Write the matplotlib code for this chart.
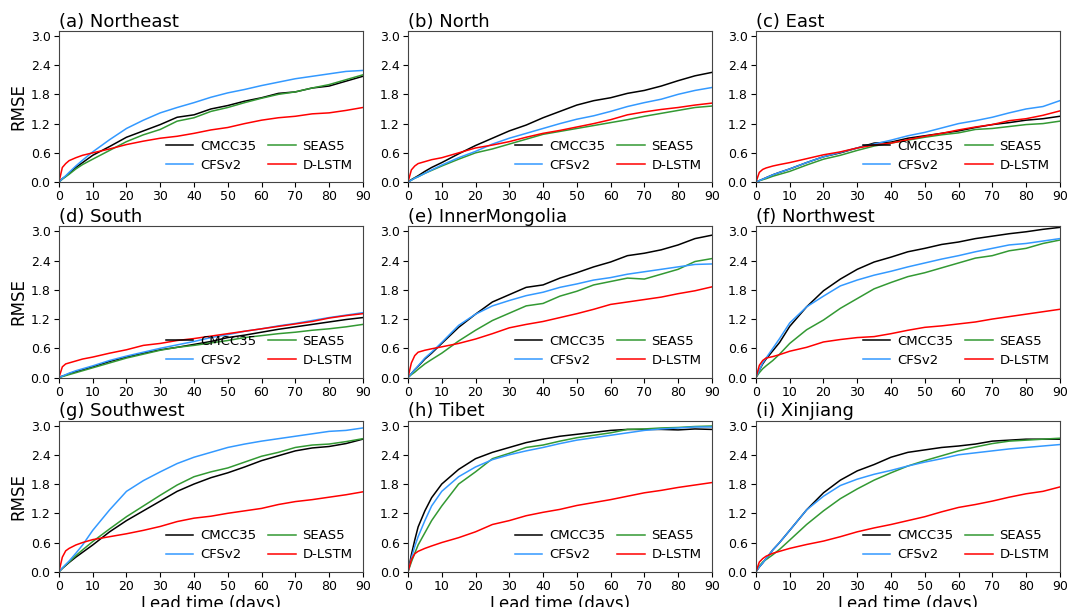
import matplotlib.pyplot as plt

# lead times (days) shared by every region
lead = [0, 1, 2, 3, 5, 7, 10, 15, 20, 25, 30, 35, 40, 45, 50, 55, 60, 65, 70, 75, 80, 85, 90]

# (a) Northeast
ne_cmcc = [0, .07, .12, .18, .3, .4, .55, .73, .92, 1.05, 1.18, 1.33, 1.38, 1.5, 1.57, 1.66, 1.73, 1.82, 1.85, 1.93, 1.97, 2.07, 2.17]
ne_seas = [0, .06, .11, .16, .27, .36, .47, .65, .83, .97, 1.08, 1.25, 1.32, 1.45, 1.53, 1.63, 1.72, 1.8, 1.85, 1.93, 2.0, 2.1, 2.2]
ne_cfsv = [0, .07, .13, .2, .33, .45, .62, .87, 1.1, 1.27, 1.42, 1.53, 1.63, 1.74, 1.83, 1.9, 1.98, 2.05, 2.12, 2.17, 2.22, 2.27, 2.29]
ne_lstm = [0, .3, .38, .44, .5, .55, .6, .68, .77, .84, .9, .94, 1.0, 1.07, 1.12, 1.2, 1.27, 1.32, 1.35, 1.4, 1.42, 1.47, 1.53]

# (b) North
n_cmcc = [0, .05, .09, .13, .22, .3, .4, .58, .75, .9, 1.05, 1.17, 1.32, 1.45, 1.58, 1.67, 1.73, 1.82, 1.88, 1.97, 2.08, 2.18, 2.25]
n_seas = [0, .04, .08, .11, .18, .24, .33, .47, .6, .68, .78, .88, .98, 1.04, 1.1, 1.16, 1.22, 1.28, 1.35, 1.41, 1.47, 1.53, 1.56]
n_cfsv = [0, .04, .08, .11, .18, .25, .35, .5, .63, .78, .9, 1.0, 1.1, 1.2, 1.29, 1.36, 1.45, 1.55, 1.63, 1.7, 1.8, 1.88, 1.94]
n_lstm = [0, .25, .33, .38, .42, .46, .5, .6, .7, .76, .83, .92, 1.0, 1.06, 1.13, 1.2, 1.28, 1.38, 1.44, 1.49, 1.53, 1.58, 1.62]

# (c) East
e_cmcc = [0, .03, .06, .09, .15, .2, .27, .4, .52, .6, .7, .8, .82, .9, .95, 1.0, 1.05, 1.12, 1.18, 1.22, 1.27, 1.3, 1.35]
e_seas = [0, .03, .05, .07, .12, .16, .22, .35, .47, .55, .65, .74, .8, .86, .92, .97, 1.01, 1.08, 1.1, 1.14, 1.18, 1.2, 1.25]
e_cfsv = [0, .03, .06, .09, .15, .2, .27, .4, .52, .61, .7, .78, .86, .95, 1.02, 1.11, 1.2, 1.26, 1.33, 1.42, 1.5, 1.55, 1.67]
e_lstm = [0, .2, .26, .29, .33, .36, .4, .48, .56, .62, .7, .76, .8, .87, .94, 1.0, 1.07, 1.13, 1.18, 1.26, 1.3, 1.37, 1.46]

# (d) South
s_cmcc = [0, .03, .05, .08, .12, .16, .22, .33, .42, .5, .57, .62, .68, .74, .82, .87, .93, .99, 1.04, 1.09, 1.14, 1.19, 1.23]
s_seas = [0, .02, .04, .06, .1, .14, .2, .3, .4, .48, .56, .62, .66, .71, .76, .82, .86, .9, .93, .97, 1.0, 1.04, 1.09]
s_cfsv = [0, .03, .06, .09, .14, .18, .24, .35, .44, .52, .6, .67, .74, .82, .88, .95, 1.0, 1.06, 1.11, 1.17, 1.23, 1.28, 1.33]
s_lstm = [0, .22, .28, .3, .34, .38, .42, .5, .57, .66, .7, .76, .8, .85, .9, .95, 1.0, 1.05, 1.1, 1.15, 1.22, 1.27, 1.31]

# (e) InnerMongolia
im_cmcc = [0, .08, .16, .23, .38, .5, .7, 1.03, 1.3, 1.55, 1.7, 1.85, 1.9, 2.04, 2.15, 2.27, 2.37, 2.5, 2.55, 2.62, 2.72, 2.85, 2.92]
im_seas = [0, .06, .11, .17, .28, .37, .5, .75, .97, 1.17, 1.32, 1.47, 1.52, 1.67, 1.77, 1.9, 1.97, 2.04, 2.02, 2.12, 2.22, 2.38, 2.44]
im_cfsv = [0, .08, .16, .24, .4, .52, .72, 1.07, 1.3, 1.47, 1.58, 1.68, 1.75, 1.85, 1.92, 2.0, 2.05, 2.12, 2.17, 2.22, 2.27, 2.32, 2.33]
im_lstm = [0, .3, .45, .52, .56, .59, .63, .7, .79, .9, 1.02, 1.09, 1.15, 1.23, 1.31, 1.4, 1.5, 1.55, 1.6, 1.65, 1.72, 1.78, 1.86]

# (f) Northwest
nw_cmcc = [0, .15, .28, .38, .55, .72, 1.05, 1.45, 1.78, 2.02, 2.22, 2.37, 2.47, 2.58, 2.65, 2.73, 2.78, 2.85, 2.9, 2.95, 2.99, 3.04, 3.08]
nw_seas = [0, .1, .18, .24, .35, .48, .7, .98, 1.18, 1.42, 1.62, 1.82, 1.95, 2.07, 2.15, 2.25, 2.35, 2.45, 2.5, 2.6, 2.65, 2.75, 2.82]
nw_cfsv = [0, .15, .3, .4, .6, .8, 1.12, 1.45, 1.67, 1.88, 2.0, 2.1, 2.18, 2.27, 2.35, 2.43, 2.5, 2.58, 2.65, 2.72, 2.75, 2.8, 2.85]
nw_lstm = [0, .25, .35, .4, .43, .47, .54, .62, .73, .78, .82, .84, .9, .97, 1.03, 1.06, 1.1, 1.14, 1.2, 1.25, 1.3, 1.35, 1.4]

# (g) Southwest
sw_cmcc = [0, .07, .13, .19, .3, .4, .55, .82, 1.05, 1.25, 1.45, 1.65, 1.8, 1.93, 2.03, 2.15, 2.28, 2.38, 2.48, 2.54, 2.57, 2.63, 2.72]
sw_seas = [0, .07, .14, .2, .33, .45, .62, .88, 1.13, 1.35, 1.57, 1.78, 1.95, 2.05, 2.13, 2.25, 2.37, 2.45, 2.55, 2.6, 2.62, 2.67, 2.73]
sw_cfsv = [0, .08, .15, .22, .38, .55, .85, 1.27, 1.65, 1.87, 2.05, 2.22, 2.35, 2.45, 2.55, 2.62, 2.68, 2.73, 2.78, 2.83, 2.88, 2.9, 2.95]
sw_lstm = [0, .3, .43, .48, .55, .6, .66, .72, .78, .85, .93, 1.03, 1.1, 1.14, 1.2, 1.25, 1.3, 1.38, 1.44, 1.48, 1.53, 1.58, 1.64]

# (h) Tibet
tb_cmcc = [0, .35, .65, .92, 1.25, 1.52, 1.8, 2.1, 2.32, 2.45, 2.55, 2.65, 2.72, 2.78, 2.82, 2.86, 2.9, 2.92, 2.92, 2.92, 2.91, 2.93, 2.92]
tb_seas = [0, .2, .38, .55, .8, 1.05, 1.35, 1.8, 2.05, 2.32, 2.43, 2.55, 2.6, 2.68, 2.75, 2.8, 2.85, 2.92, 2.93, 2.95, 2.96, 2.98, 2.99]
tb_cfsv = [0, .28, .52, .72, 1.05, 1.35, 1.65, 1.95, 2.15, 2.3, 2.4, 2.48, 2.55, 2.63, 2.7, 2.75, 2.8, 2.85, 2.9, 2.93, 2.95, 2.97, 2.97]
tb_lstm = [0, .25, .37, .42, .48, .53, .6, .7, .82, .97, 1.05, 1.15, 1.22, 1.28, 1.36, 1.42, 1.48, 1.55, 1.62, 1.67, 1.73, 1.78, 1.83]

# (i) Xinjiang
xj_cmcc = [0, .1, .18, .27, .45, .6, .85, 1.27, 1.62, 1.88, 2.07, 2.2, 2.35, 2.45, 2.5, 2.55, 2.58, 2.62, 2.68, 2.7, 2.72, 2.72, 2.72]
xj_seas = [0, .12, .2, .25, .35, .46, .65, .97, 1.25, 1.5, 1.7, 1.88, 2.03, 2.17, 2.28, 2.38, 2.48, 2.56, 2.63, 2.68, 2.7, 2.72, 2.74]
xj_cfsv = [0, .1, .18, .27, .45, .6, .85, 1.27, 1.55, 1.77, 1.9, 2.0, 2.08, 2.17, 2.25, 2.32, 2.4, 2.44, 2.48, 2.52, 2.55, 2.58, 2.61]
xj_lstm = [0, .2, .27, .32, .38, .42, .48, .56, .63, .72, .82, .9, .97, 1.05, 1.13, 1.23, 1.32, 1.38, 1.45, 1.53, 1.6, 1.65, 1.74]

titles = ['(a) Northeast', '(b) North', '(c) East', '(d) South', '(e) InnerMongolia',
          '(f) Northwest', '(g) Southwest', '(h) Tibet', '(i) Xinjiang']
regions = [
    (ne_cmcc, ne_seas, ne_cfsv, ne_lstm),
    (n_cmcc, n_seas, n_cfsv, n_lstm),
    (e_cmcc, e_seas, e_cfsv, e_lstm),
    (s_cmcc, s_seas, s_cfsv, s_lstm),
    (im_cmcc, im_seas, im_cfsv, im_lstm),
    (nw_cmcc, nw_seas, nw_cfsv, nw_lstm),
    (sw_cmcc, sw_seas, sw_cfsv, sw_lstm),
    (tb_cmcc, tb_seas, tb_cfsv, tb_lstm),
    (xj_cmcc, xj_seas, xj_cfsv, xj_lstm),
]
models = ['CMCC35', 'SEAS5', 'CFSv2', 'D-LSTM']
colors = ['black', '#339933', '#3399ff', 'red']

fig = plt.figure(figsize=(10.7, 6.07), dpi=100)

lefts = [0.0551, 0.3813, 0.7065]
bottoms = [0.700, 0.378, 0.058]
w, h = 0.284, 0.249

for k in range(9):
    row, col = k // 3, k % 3
    ax = fig.add_axes([lefts[col], bottoms[row], w, h])
    for vals, name, c in zip(regions[k], models, colors):
        ax.plot(lead, vals, color=c, linewidth=1.1, label=name)

    ax.set_xlim(0, 90)
    ax.set_ylim(0, 3.1)
    ax.set_xticks(range(0, 91, 10))
    ax.set_yticks([0, 0.6, 1.2, 1.8, 2.4, 3.0])
    ax.set_yticklabels(['0.0', '0.6', '1.2', '1.8', '2.4', '3.0'])
    ax.tick_params(labelsize=9, length=3.5, pad=2.5)
    for sp in ax.spines.values():
        sp.set_color('#444444')
    ax.set_title(titles[k], loc='left', fontsize=13, pad=3)
    if col == 0:
        ax.set_ylabel('RMSE', fontsize=12, labelpad=2)
    if row == 2:
        # bottom row label sits right at the figure edge
        ax.set_xlabel('Lead time (days)', fontsize=12, labelpad=1)
    # legend in two columns: CMCC35/CFSv2 on the left, SEAS5/D-LSTM on the right
    hs, ls = ax.get_legend_handles_labels()
    order = [0, 2, 1, 3]
    ax.legend([hs[i] for i in order], [ls[i] for i in order], ncol=2,
              loc='lower right', frameon=False, fontsize=9.5,
              handlelength=2.1, handletextpad=0.5, columnspacing=0.9,
              labelspacing=0.45, borderaxespad=0.4)

fig.savefig('out.png', dpi=100)
